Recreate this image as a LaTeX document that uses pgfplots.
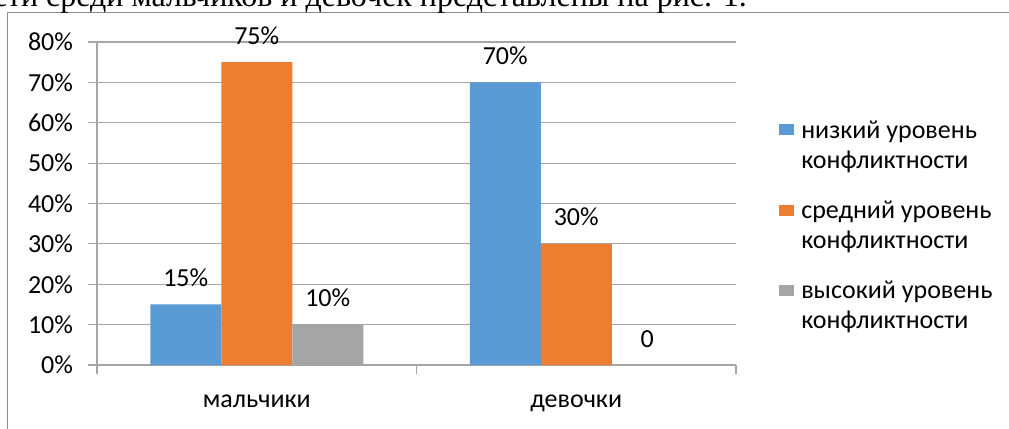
\documentclass[border=0pt]{standalone}
\usepackage{fontspec}
\setmainfont{Carlito}
\newfontfamily\serif{Liberation Serif}
\usepackage{pgfplots}
\pgfplotsset{compat=1.18}

\definecolor{cBlue}{HTML}{5B9BD5}
\definecolor{cOrange}{HTML}{ED7D31}
\definecolor{cGray}{HTML}{A5A5A5}
\definecolor{gridc}{HTML}{A6A6A6}
\definecolor{framec}{HTML}{8C8C8C}

\newcommand{\chfont}{\fontsize{19.5pt}{22.5pt}\selectfont}

\begin{document}
\begin{tikzpicture}
% page = 1009x428 px at 0.75pt/px, origin at the plot area's lower left corner
\useasboundingbox (-72.75pt,-47.25pt) rectangle (684pt,273.75pt);
\draw[framec, line width=0.8pt] (-67.1pt,-60pt) -- (-67.1pt,264.5pt) -- (700pt,264.5pt);
\node[anchor=base east, inner sep=0pt, font=\serif\fontsize{24pt}{28pt}\selectfont]
  at (487.5pt,268.5pt) {сти среди мальчиков и девочек представлены на рис. 1.};
\begin{axis}[
    at={(0pt,0pt)}, anchor=south west,
    scale only axis, width=479.25pt, height=242.25pt,
    ybar=0pt, bar width=53.25pt,
    xmin=-0.5, xmax=1.5, ymin=0, ymax=80,
    clip=false,
    axis x line*=bottom, axis y line*=left,
    axis line style={gridc, line width=0.8pt, -},
    xtick={-0.5,0.5,1.5}, xticklabels={},
    extra x ticks={0,1}, extra x tick labels={мальчики,девочки},
    extra x tick style={major tick length=0pt, grid=none,
        xticklabel style={anchor=base, yshift=-32pt}},
    ytick={0,10,...,80},
    yticklabel={\pgfmathprintnumber{\tick}\%},
    yticklabel style={anchor=east, xshift=-8pt},
    tick align=outside, major tick length=6.5pt,
    tick style={gridc, line width=0.8pt},
    ymajorgrids, grid style={gridc, line width=0.8pt},
    tick label style={font=\chfont, text=black},
    /pgf/number format/assume math mode=true,
    point meta=explicit symbolic,
    nodes near coords,
    nodes near coords style={font=\chfont, anchor=base, yshift=13.5pt},
    legend style={draw=none, fill=none, at={(1.0673,0.765)}, anchor=north west,
        inner sep=0pt, font=\chfont, row sep=19pt,
        cells={anchor=base west, align=left, inner sep=0pt},
        /tikz/every odd column/.append style={column sep=3.5pt}},
    % the text cell's base is its last line: lift the square to the first line
    legend image code/.code={\fill[#1] (0pt,24.75pt) rectangle (11pt,33pt);},
]
\addplot[fill=cBlue, draw=none] coordinates {(0,15) [15\%] (1,70) [70\%]};
\addplot[fill=cOrange, draw=none] coordinates {(0,75) [75\%] (1,30) [30\%]};
\addplot[fill=cGray, draw=none] coordinates {(0,10) [10\%] (1,0) [0]};
\legend{низкий уровень\\конфликтности, средний уровень\\конфликтности, высокий уровень\\конфликтности}
\end{axis}
\end{tikzpicture}
\end{document}
